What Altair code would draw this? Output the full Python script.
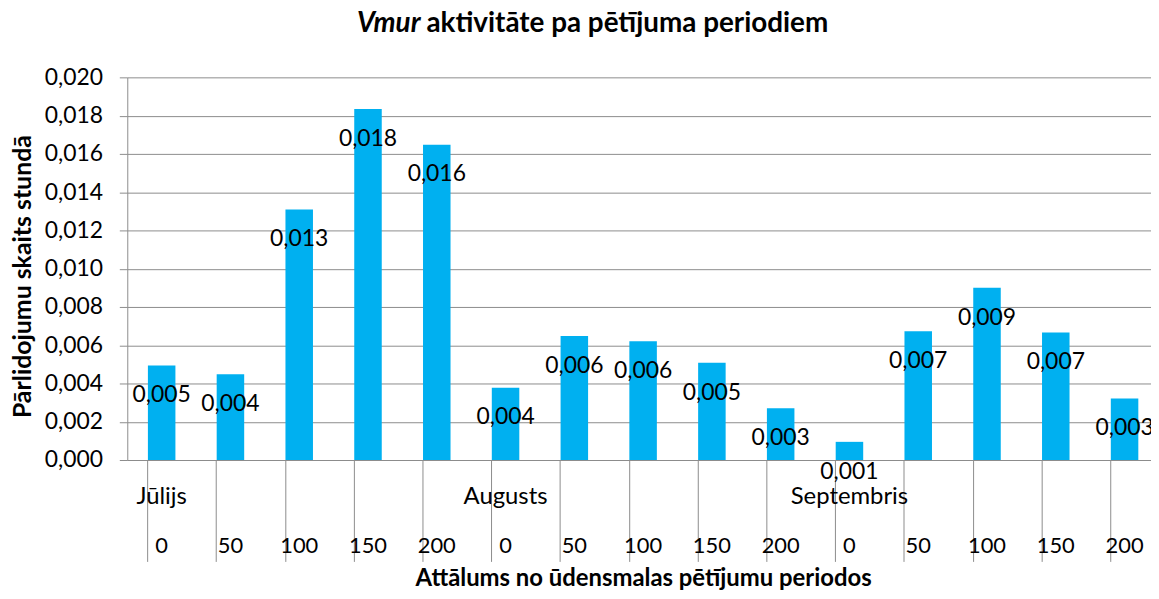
import altair as alt
import pandas as pd

months = ["Jūlijs", "Augusts", "Septembris"]
distances = ["0", "50", "100", "150", "200"]
values = [0.00494, 0.00448, 0.01309, 0.01834, 0.01648,
          0.00378, 0.00648, 0.00621, 0.00508, 0.00270,
          0.00095, 0.00673, 0.00900, 0.00667, 0.00322]
y_ticks = [0.000, 0.002, 0.004, 0.006, 0.008, 0.010,
           0.012, 0.014, 0.016, 0.018, 0.020]

title_italic = "Vmur"
title_rest = "aktivitāte pa pētījuma periodiem"
y_title = "Pārlidojumu skaits stundā"
x_title = "Attālums no ūdensmalas pētījumu periodos"

rows = []
for i, v in enumerate(values):
    rows.append({"idx": i, "month": months[i // 5], "dist": distances[i % 5], "v": v})
df = pd.DataFrame(rows)
month_df = pd.DataFrame({"idx": [0, 5, 10], "month": months})

FONT = "Lato"
GRID = "#8c8c8c"
W, H = 1030, 385
STEP = 69.2

xscale = alt.Scale(domain=list(range(15)), range=[0, 15 * STEP],
                   paddingInner=0.6, paddingOuter=0.3)
x_enc = alt.X("idx:O", scale=xscale,
              axis=alt.Axis(labels=False, ticks=True, tickSize=102, tickColor=GRID,
                            domainColor=GRID, bandPosition=0, grid=False,
                            title=x_title, titleFont=FONT, titleFontSize=24,
                            titleFontWeight="bold", titleColor="black",
                            titleX=519, titleY=126, titleAlign="center",
                            titleBaseline="alphabetic"))
y_enc = alt.Y("v:Q", scale=alt.Scale(domain=[0, 0.02]),
              axis=alt.Axis(values=y_ticks, labelOverlap=False,
                            labelExpr="replace(format(datum.value, '.3f'), '.', ',')",
                            tickSize=8, tickColor=GRID, domainColor=GRID,
                            gridColor=GRID, grid=True, labelPadding=17,
                            labelFont=FONT, labelFontSize=23, labelColor="black",
                            title=y_title, titleFont=FONT, titleFontSize=25,
                            titleFontWeight="bold", titleColor="black",
                            titleX=-105, titleY=200, titleAngle=270,
                            titleBaseline="middle", titleAlign="center"))

base = alt.Chart(df)
bars = base.mark_bar(color="#00B0F0").encode(x=x_enc, y=y_enc)
vlabels = base.transform_calculate(
    lbl="replace(format(datum.v, '.3f'), '.', ',')"
).mark_text(dy=30, baseline="middle", font=FONT, fontSize=23, color="black").encode(
    x=x_enc, y=y_enc, text="lbl:N")
dlabels = base.mark_text(baseline="middle", font=FONT, fontSize=22, color="black").encode(
    x=x_enc, y=alt.value(H + 87), text="dist:N")
mlabels = alt.Chart(month_df).mark_text(baseline="middle", font=FONT, fontSize=24,
                                        color="black").encode(
    x=x_enc, y=alt.value(H + 37), text="month:N")

tdf = pd.DataFrame({"a": [title_italic], "b": [title_rest]})
t1 = alt.Chart(tdf).mark_text(align="right", baseline="middle", font=FONT, fontSize=28,
                              fontWeight="bold", fontStyle="italic", color="black").encode(
    x=alt.value(295), y=alt.value(-54), text="a:N")
t2 = alt.Chart(tdf).mark_text(align="left", baseline="middle", font=FONT, fontSize=28,
                              fontWeight="bold", color="black").encode(
    x=alt.value(301), y=alt.value(-54), text="b:N")

chart = alt.layer(bars, vlabels, dlabels, mlabels, t1, t2).properties(
    width=W, height=H,
    padding={"left": 120, "top": 68, "right": 0, "bottom": 130},
    autosize=alt.AutoSizeParams(type="none"),
    background="white",
).configure_view(stroke=None)

chart.save("out.html", embed_options={"renderer": "svg", "actions": False})
